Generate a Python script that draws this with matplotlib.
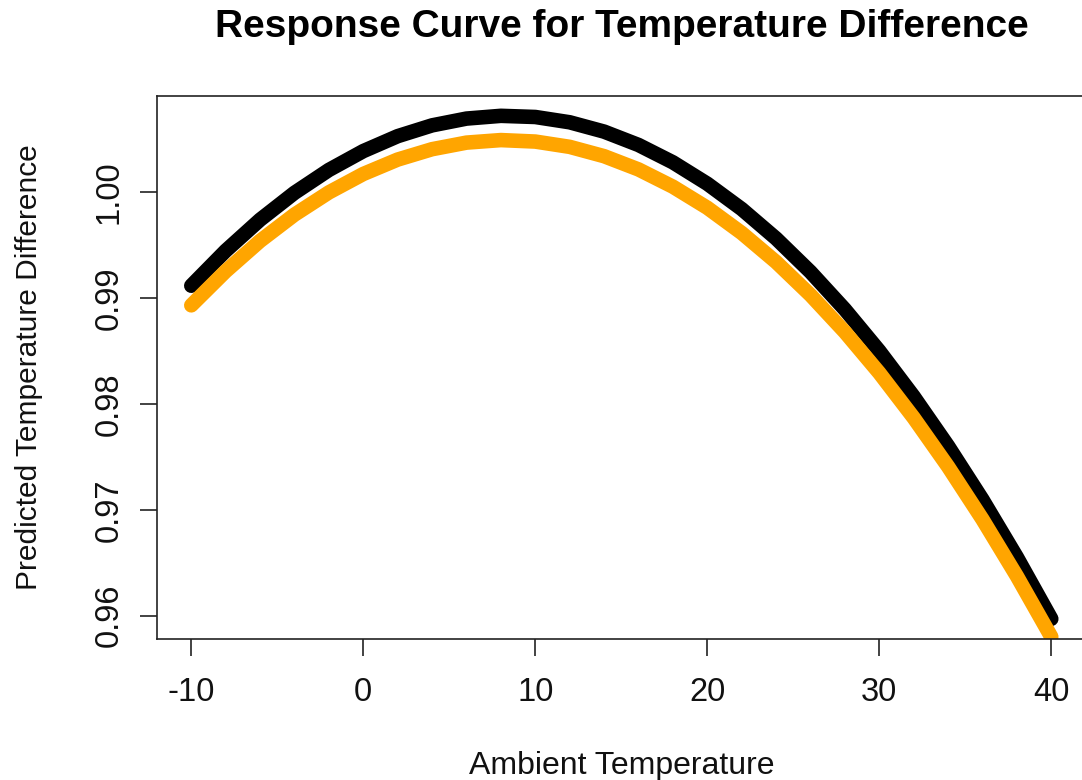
import matplotlib
matplotlib.use("Agg")
import matplotlib.pyplot as plt

plt.rcParams['font.family'] = ['Liberation Sans', 'DejaVu Sans']

temps = [-10, -8, -6, -4, -2, 0, 2, 4, 6, 8, 10, 12, 14, 16, 18, 20,
         22, 24, 26, 28, 30, 32, 34, 36, 38, 40]
pred_black = [0.99115, 0.99445, 0.99738, 0.99992, 1.00208, 1.00386, 1.00527,
              1.00629, 1.00693, 1.00719, 1.00708, 1.00658, 1.00570, 1.00444,
              1.00280, 1.00078, 0.99839, 0.99561, 0.99245, 0.98891, 0.98499,
              0.98069, 0.97601, 0.97096, 0.96552, 0.95970]
pred_orange = [0.98930, 0.99252, 0.99538, 0.99786, 0.99996, 1.00170, 1.00306,
               1.00404, 1.00466, 1.00490, 1.00476, 1.00426, 1.00338, 1.00213,
               1.00050, 0.99851, 0.99613, 0.99339, 0.99027, 0.98678, 0.98292,
               0.97868, 0.97407, 0.96909, 0.96373, 0.95800]
xticks = [-10, 0, 10, 20, 30, 40]
yticks = [0.96, 0.97, 0.98, 0.99, 1.00]
ytick_labels = ["0.96", "0.97", "0.98", "0.99", "1.00"]

fig = plt.figure(figsize=(10.82, 7.80), dpi=100)
ax = fig.add_axes([0.1450, 0.1808, 0.8584, 0.6961])

ax.plot(temps, pred_black, color='black', lw=10.5, solid_capstyle='round',
        solid_joinstyle='round')
ax.plot(temps, pred_orange, color='orange', lw=10.5, solid_capstyle='round',
        solid_joinstyle='round')

ax.set_xlim(-12, 42)
ax.set_ylim(0.9578, 1.00906)
ax.set_xticks(xticks)
ax.set_xticklabels([str(t) for t in xticks])
ax.set_yticks(yticks)
ax.set_yticklabels(ytick_labels, rotation=90, va='center')

for s in ax.spines.values():
    s.set_color('#222222')
    s.set_linewidth(1.2)

ax.tick_params(axis='both', direction='out', length=12.5, width=1.2,
               color='#222222', labelsize=23.5, labelcolor='#111111')
ax.tick_params(axis='x', pad=15)
ax.tick_params(axis='y', pad=10.5)

ax.set_xlabel("Ambient Temperature", fontsize=23, color='#111111', labelpad=31)
ax.set_ylabel("Predicted Temperature Difference", fontsize=21.5, color='#111111',
              labelpad=37)
fig.text(0.5743, 0.965, "Response Curve for Temperature Difference",
         fontsize=28, fontweight='bold', ha='center', va='center')

fig.savefig("out.png", dpi=100)
